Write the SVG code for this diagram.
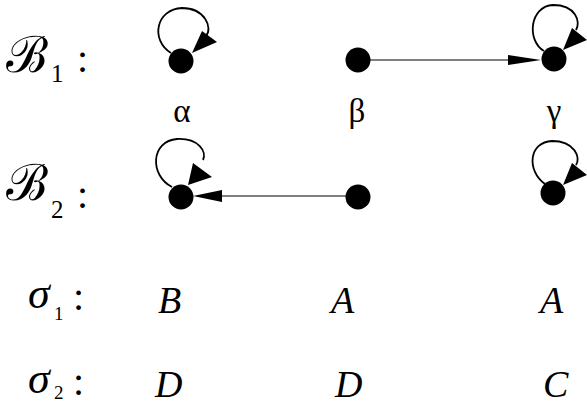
<svg xmlns="http://www.w3.org/2000/svg" width="587" height="404" viewBox="0 0 587 404">
<style>
.node{fill:#000}
.loop{fill:none;stroke:#000;stroke-width:1.8}
.edge{fill:none;stroke:#000;stroke-width:1}
.head{fill:#000}
.cal{font-family:"DejaVu Serif","Liberation Serif",serif;font-size:50px}
.sub{font-family:"Liberation Serif",serif;font-size:25px}
.colon{font-family:"Liberation Serif",serif;font-size:40px}
.greek{font-family:"Liberation Serif",serif;font-size:33px;text-anchor:middle}
.it{font-family:"Liberation Serif",serif;font-style:italic;font-size:38px}
.sig{font-family:"Liberation Serif",serif;font-style:italic;font-size:44px}
.sub2{font-family:"Liberation Serif",serif;font-size:19px}
</style>
<rect width="587" height="404" fill="#fff"/>
<g id="labels">
<text class="cal" x="6" y="72">ℬ</text><text class="sub" x="51" y="82">1</text><text class="colon" x="77" y="72">:</text>
<text class="cal" x="6" y="200">ℬ</text><text class="sub" x="51" y="218">2</text><text class="colon" x="77" y="208">:</text>
<text class="greek" x="182" y="122">α</text>
<text class="greek" x="357" y="122">β</text>
<text class="greek" x="554" y="122">γ</text>
<text class="sig" x="28" y="308">σ</text><text class="sub2" x="54" y="320">1</text><text class="colon" x="73" y="310">:</text>
<text class="sig" x="28" y="393">σ</text><text class="sub2" x="54" y="399">2</text><text class="colon" x="73" y="395">:</text>
<text class="it" x="158" y="313">B</text>
<text class="it" x="331" y="313">A</text>
<text class="it" x="540" y="313">A</text>
<text class="it" x="155" y="397">D</text>
<text class="it" x="335" y="397">D</text>
<text class="it" x="543" y="397">C</text>
</g>
<g id="connectors">
<line class="edge" x1="358" y1="60" x2="510" y2="60"/>
<polygon class="head" points="541,60 508,55 508,65"/>
<line class="edge" x1="358" y1="196" x2="220" y2="196"/>
<polygon class="head" points="193,196 222,190 222,202"/>
<path class="loop" d="M171,53 C150,40 156,9 182,8 C205,8 213,28 206,36"/>
<polygon class="head" points="192,53 202,31 217,42"/>
<path class="loop" d="M544,51 C526,40 530,6 553,5 C576,5 581,22 576,30"/>
<polygon class="head" points="563,50 572,28 587,40"/>
<path class="loop" d="M172,187 C149,175 151,141 177,139 C199,138 207,152 203,160"/>
<polygon class="head" points="188,185 193,163 212,177"/>
<path class="loop" d="M545,184 C526,170 529,142 552,141 C575,141 581,158 576,165"/>
<polygon class="head" points="563,185 572,163 587,175"/>
</g>
<g id="alpha1"><circle class="node" cx="181" cy="61" r="12.5"/></g>
<g id="beta1"><circle class="node" cx="358" cy="60" r="12.5"/></g>
<g id="gamma1"><circle class="node" cx="554" cy="59" r="12.5"/></g>
<g id="alpha2"><circle class="node" cx="181" cy="197" r="12.5"/></g>
<g id="beta2"><circle class="node" cx="358" cy="197" r="12.5"/></g>
<g id="gamma2"><circle class="node" cx="553" cy="193" r="12.5"/></g>
</svg>
